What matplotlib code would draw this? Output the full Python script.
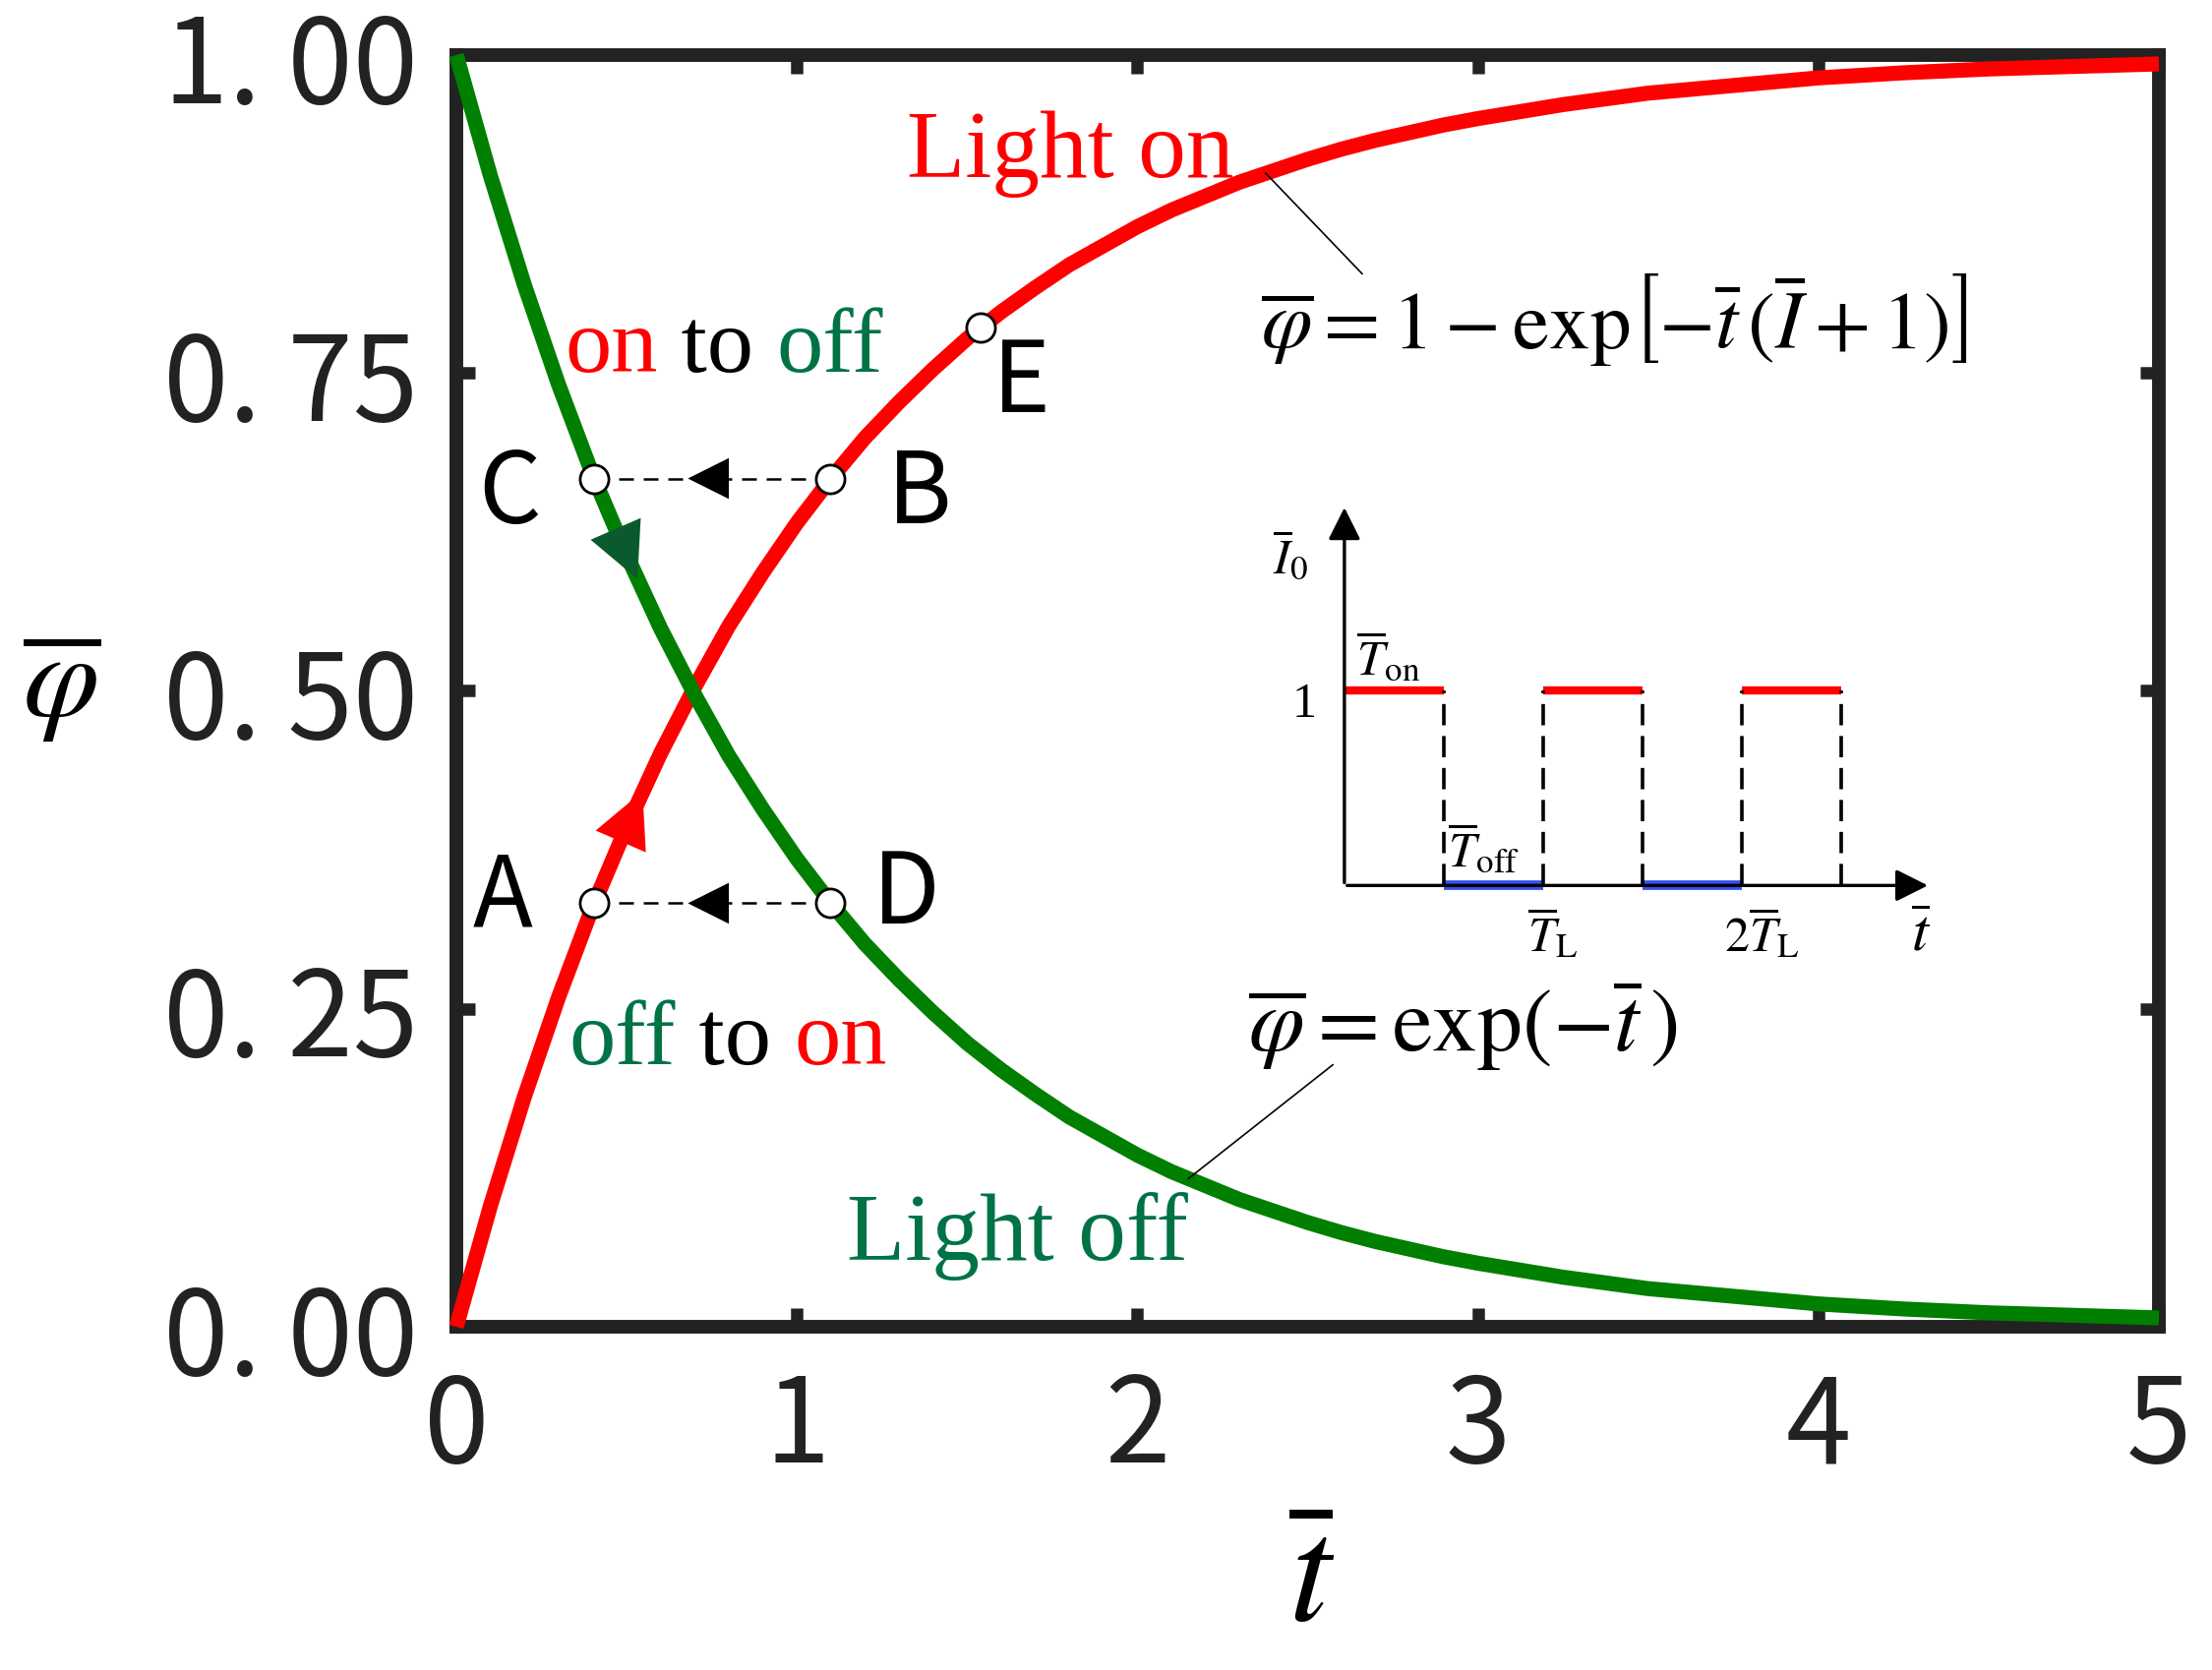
import matplotlib
matplotlib.use('Agg')
import matplotlib.pyplot as plt

plt.rcParams['mathtext.fontset'] = 'stix'

# curves
t_vals = [0.0, 0.1, 0.2, 0.3, 0.4, 0.5, 0.6, 0.7, 0.8, 0.9, 1.0, 1.1, 1.2, 1.3, 1.4,
          1.5, 1.6, 1.7, 1.8, 1.9, 2.0, 2.1, 2.2, 2.3, 2.4, 2.5, 2.6, 2.7, 2.8, 2.9,
          3.0, 3.25, 3.5, 3.75, 4.0, 4.25, 4.5, 4.75, 5.0]
phi_off = [1.000, 0.905, 0.819, 0.741, 0.670, 0.607, 0.549, 0.497, 0.449, 0.407,
           0.368, 0.333, 0.301, 0.273, 0.247, 0.223, 0.202, 0.183, 0.165, 0.150,
           0.135, 0.122, 0.111, 0.100, 0.091, 0.082, 0.074, 0.067, 0.061, 0.055,
           0.050, 0.039, 0.030, 0.024, 0.018, 0.014, 0.011, 0.009, 0.007]
phi_on = [0.000, 0.095, 0.181, 0.259, 0.330, 0.393, 0.451, 0.503, 0.551, 0.593,
          0.632, 0.667, 0.699, 0.727, 0.753, 0.777, 0.798, 0.817, 0.835, 0.850,
          0.865, 0.878, 0.889, 0.900, 0.909, 0.918, 0.926, 0.933, 0.939, 0.945,
          0.950, 0.961, 0.970, 0.976, 0.982, 0.986, 0.989, 0.991, 0.993]

# marked states
pt_names = ['A', 'B', 'C', 'D', 'E']
pt_t = [0.405, 1.099, 0.405, 1.099, 1.54]
pt_phi = [0.333, 0.667, 0.667, 0.333, 0.786]

xticks = [0, 1, 2, 3, 4, 5]
yticks = [0.0, 0.25, 0.5, 0.75, 1.0]
ytick_labels = ['0. 00', '0. 25', '0. 50', '0. 75', '1. 00']

# inset pulse train (units of T_L, light intensity)
on_starts = [0.0, 1.0, 2.0]
off_starts = [0.5, 1.5]
pulse_len = 0.5
pulse_edges = [0.5, 1.0, 1.5, 2.0, 2.5]

RED = '#FF0000'
GREEN = '#007F00'
TXT_GREEN = '#007346'
DARK = '#222222'
NARROW = ['Noto Sans CJK SC', 'DejaVu Sans']
SERIF = ['Liberation Serif', 'DejaVu Serif']

fig = plt.figure(figsize=(22.49, 16.99), dpi=100)
ax = fig.add_axes([0.2063, 0.2054, 0.9760 - 0.2063, 0.9665 - 0.2054])

ax.plot(t_vals, phi_on, color=RED, lw=11, zorder=5, clip_on=False, solid_capstyle='butt')
ax.plot(t_vals, phi_off, color=GREEN, lw=11, zorder=5, clip_on=False, solid_capstyle='butt')

# direction arrows on the curves
ax.annotate('', xy=(0.55, 0.423), xytext=(0.43, 0.349),
            arrowprops=dict(arrowstyle='-|>', color=RED, mutation_scale=100, lw=0), zorder=6)
ax.annotate('', xy=(0.535, 0.586), xytext=(0.42, 0.657),
            arrowprops=dict(arrowstyle='-|>', color='#0B5A2E', mutation_scale=100, lw=0), zorder=6)

# jumps B->C and D->A
for (t1, t2, y) in [(pt_t[1], pt_t[2], pt_phi[1]), (pt_t[3], pt_t[0], pt_phi[3])]:
    ax.plot([t1, t2], [y, y], color='black', lw=1.8, ls=(0, (6, 4)), zorder=6)
    mid = 0.5 * (t1 + t2)
    ax.annotate('', xy=(mid - 0.08, y), xytext=(mid + 0.08, y),
                arrowprops=dict(arrowstyle='-|>', color='black', mutation_scale=75, lw=0), zorder=7)

ax.plot(pt_t, pt_phi, ls='none', marker='o', ms=21, mfc='white', mec='black', mew=2, zorder=8)

label_pos = {'A': (0.135, 0.337), 'B': (1.36, 0.655), 'C': (0.155, 0.655),
             'D': (1.32, 0.340), 'E': (1.66, 0.742)}
for name in pt_names:
    x, y = label_pos[name]
    ax.text(x, y, name, family=NARROW, fontsize=72, ha='center', va='center', zorder=9)

# coloured captions
def colored(x, y, pieces, size):
    txt = ax.text(x, y, pieces[0][0], color=pieces[0][1], family=SERIF, fontsize=size,
                  ha='left', va='baseline', zorder=9)
    for s, c in pieces[1:]:
        txt = ax.annotate(s, xy=(1, 0), xycoords=txt, color=c, family=SERIF, fontsize=size,
                          ha='left', va='bottom', zorder=9)

colored(1.323, 0.905, [('Light on', RED)], 70)
colored(0.32, 0.752, [('on', RED), (' to ', 'black'), ('off', TXT_GREEN)], 68)
colored(0.33, 0.207, [('off', TXT_GREEN), (' to ', 'black'), ('on', RED)], 68)
colored(1.147, 0.053, [('Light off', TXT_GREEN)], 70)

ax.text(2.363, 0.770, r'$\overline{\varphi}=1-\exp\!\left[-\overline{t}\,(\overline{I}+1)\right]$',
        fontsize=60, ha='left', va='baseline', zorder=9)
ax.text(2.326, 0.217, r'$\overline{\varphi}=\exp(-\overline{t}\,)$',
        fontsize=66, ha='left', va='baseline', zorder=9)
ax.plot([2.377, 2.660], [0.907, 0.828], color='black', lw=1.2, zorder=9)
ax.plot([2.15, 2.574], [0.1165, 0.206], color='black', lw=1.2, zorder=9)

# inset: light intensity pulse train
ux, uy = 0.5836, 0.1535
ox, oy = 2.608, 0.347
xl, yl = (-0.7, 3.1), (-0.6, 2.1)
ins = ax.inset_axes([ox + xl[0] * ux, oy + yl[0] * uy, (xl[1] - xl[0]) * ux, (yl[1] - yl[0]) * uy],
                    transform=ax.transData, zorder=10)
ins.set_xlim(*xl)
ins.set_ylim(*yl)
ins.axis('off')
ins.annotate('', xy=(2.95, 0), xytext=(0, 0),
             arrowprops=dict(arrowstyle='-|>', color='black', lw=2.4, mutation_scale=50))
ins.annotate('', xy=(0, 1.95), xytext=(0, 0),
             arrowprops=dict(arrowstyle='-|>', color='black', lw=2.4, mutation_scale=50))
for s in on_starts:
    ins.plot([s, s + pulse_len], [1, 1], color=RED, lw=6, solid_capstyle='butt')
for s in off_starts:
    ins.plot([s, s + pulse_len], [0, 0], color='#3350F0', lw=7, solid_capstyle='butt')
for e in pulse_edges:
    ins.plot([e, e], [0, 1], color='black', lw=2.6, ls=(0, (6, 3)))

ins.text(-0.27, 1.69, r'$\overline{I}_{0}$', fontsize=36, ha='center', va='center')
ins.text(-0.2, 0.93, '1', family=SERIF, fontsize=36, ha='center', va='center')
ins.text(0.06, 1.03, r'$\overline{T}_{\rm on}$', fontsize=36, ha='left', va='bottom')
ins.text(0.52, 0.05, r'$\overline{T}_{\rm off}$', fontsize=36, ha='left', va='bottom')
ins.text(1.05, -0.1, r'$\overline{T}_{\rm L}$', fontsize=36, ha='center', va='top')
ins.text(2.1, -0.1, r'$2\overline{T}_{\rm L}$', fontsize=36, ha='center', va='top')
ins.text(2.9, -0.1, r'$\overline{t}$', fontsize=44, ha='center', va='top')

# frame, ticks
ax.set_xlim(0, 5)
ax.set_ylim(0, 1)
ax.set_xticks(xticks)
ax.set_xticklabels([str(v) for v in xticks])
ax.set_yticks(yticks)
ax.set_yticklabels(ytick_labels)
for sp in ax.spines.values():
    sp.set_linewidth(10)
    sp.set_color(DARK)
ax.tick_params(direction='in', length=14, width=9, color=DARK, top=True, right=True,
               labelsize=86, labelcolor=DARK)
ax.tick_params(axis='x', pad=30)
ax.tick_params(axis='y', pad=28)
for lab in ax.get_xticklabels() + ax.get_yticklabels():
    lab.set_family(NARROW)

fig.text(0.593, 0.055, r'$\overline{t}$', fontsize=110, ha='center', va='center')
fig.text(0.028, 0.59, r'$\overline{\varphi}$', fontsize=90, ha='center', va='center')

fig.savefig('out.png', dpi=100)
